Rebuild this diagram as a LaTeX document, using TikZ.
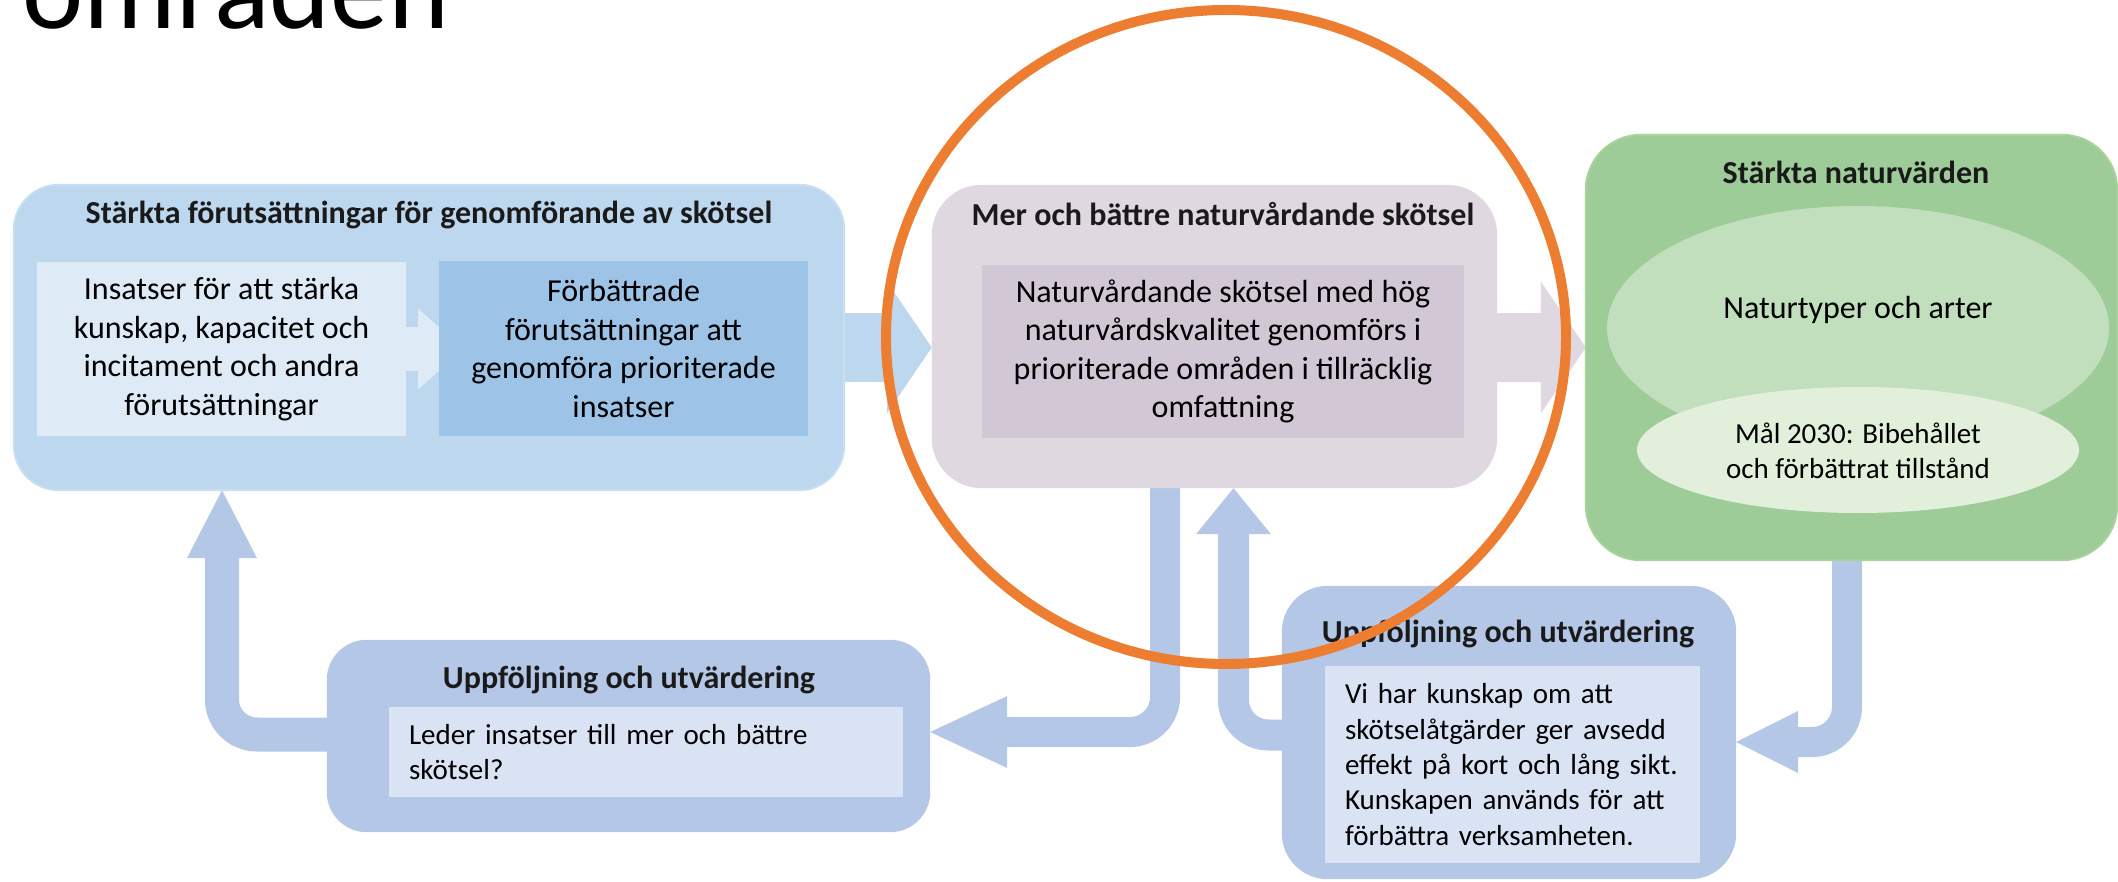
\documentclass[tikz,border=0pt]{standalone}
\usepackage{fontspec}
\setmainfont{Carlito}
\usetikzlibrary{shapes.geometric,arrows.meta,calc}
\definecolor{cBone}{HTML}{BDD7EE}
\definecolor{cBoneEdge}{HTML}{C9DEF1}
\definecolor{cA}{HTML}{DEEBF7}
\definecolor{cB}{HTML}{9DC3E6}
\definecolor{cM}{HTML}{DFD8E1}
\definecolor{cMi}{HTML}{D2C7D5}
\definecolor{cG}{HTML}{9DCC98}
\definecolor{cGedge}{HTML}{A9D29A}
\definecolor{cGa}{HTML}{C1DEBD}
\definecolor{cGb}{HTML}{E2EFDA}
\definecolor{cU}{HTML}{B4C7E7}
\definecolor{cUi}{HTML}{DAE3F3}
\definecolor{cO}{HTML}{ED7D31}
\definecolor{cTxt}{HTML}{1A1A1A}
\begin{document}
\begin{tikzpicture}[x=1pt,y=-1pt,
  panel/.style={rectangle, rounded corners=#1, inner sep=0pt},
  inbox/.style={rectangle, inner sep=0pt},
  ttl/.style={font=\fontsize{32}{38}\selectfont\bfseries, inner sep=0pt, text=cTxt},
  body/.style={font=\fontsize{32}{38.5}\selectfont, align=center},
  small/.style={font=\fontsize{29}{35.3}\selectfont},
  flow/.style={draw=cU, line width=#1, rounded corners=35pt},
  tipL/.style={-{Triangle[length=68pt,width=70pt,line width=0pt]}},
  tipM/.style={-{Triangle[length=77pt,width=72pt,line width=0pt]}},
  tipN/.style={-{Triangle[length=46pt,width=75pt,line width=0pt]}},
  tipG/.style={-{Triangle[length=62pt,width=62pt,line width=0pt]}},
  bigtip/.style={-{Triangle[length=45pt,width=132pt,line width=0pt]}}
]
\clip (0,0) rectangle (2118,882);

% page title (cut at top, as in the reference)
\node[anchor=base west, inner sep=0pt, font=\fontsize{116}{130}\selectfont] (pagetitle) at (22,29) {områden};

\coordinate (c1) at (429,337.5);
\coordinate (c2) at (1214.5,336.5);
\coordinate (cg) at (1851.5,347.5);
\coordinate (c4) at (628.5,736);
\coordinate (c5) at (1509,732.5);

% phantom nodes for anchors
\path (c1) node[panel=45pt, minimum width=830pt, minimum height=305pt] (box1) {};
\path (c2) node[panel=50pt, minimum width=565pt, minimum height=303pt] (box2) {};
\path (cg) node[panel=55pt, minimum width=531pt, minimum height=425pt] (green) {};
\path (c4) node[panel=40pt, minimum width=603pt, minimum height=192pt] (box4) {};
\path (c5) node[panel=46pt, minimum width=454pt, minimum height=293pt] (box5) {};

% big arrows between top panels
\draw[draw=cBone, line width=69pt, bigtip] (box1.east |- 0,347.5) -- (box2.west |- 0,347.5);
\draw[draw=cM, line width=69pt, bigtip] (box2.east |- 0,347.5) -- (green.west |- 0,347.5);

% feedback arrows
\draw[flow=34pt, tipL] (box4.west |- 0,734.5) -| (box1.south -| 222,0);
\draw[flow=30pt, tipM] (box2.south -| 1165,0) |- (box4.east |- 0,732);
\draw[flow=31pt, tipN] (box5.west |- 0,735) -| (box2.south -| 1233.5,0);
\draw[flow=30pt, tipG] (green.south -| 1847,0) |- (box5.east |- 0,742);

% panels
\fill[cBone] (box1.north west) [rounded corners=45pt] rectangle (box1.south east);
\draw[cBoneEdge, line width=2pt, rounded corners=45pt] (box1.north west) rectangle (box1.south east);
\fill[cM] (box2.north west) [rounded corners=50pt] rectangle (box2.south east);
\fill[cG] (green.north west) [rounded corners=55pt] rectangle (green.south east);
\draw[cGedge, line width=2pt, rounded corners=55pt] (green.north west) rectangle (green.south east);
\fill[cU] (box4.north west) [rounded corners=40pt] rectangle (box4.south east);
\fill[cU] (box5.north west) [rounded corners=46pt] rectangle (box5.south east);

% titles
\node[ttl] (t1) at (429,215) {Stärkta förutsättningar för genomförande av skötsel};
\node[ttl] (t2) at (1223,214) {Mer och bättre naturvårdande skötsel};
\node[ttl] (tg) at (1856,172) {Stärkta naturvärden};
\node[ttl] (t4) at (629,680) {Uppföljning och utvärdering};
\node[ttl] (t5) at (1508,634) {Uppföljning och utvärdering};

% inner boxes of panel 1
\node[inbox, fill=cA, minimum width=369pt, minimum height=174pt, body] (inA) at (221.5,349)
  {Insatser för att stärka\\kunskap, kapacitet och\\incitament och andra\\förutsättningar};
\draw[draw=cA, line width=44pt, -{Triangle[length=46pt,width=81pt,line width=0pt]}] (inA.east |- 0,349) -- (464,349);
\node[inbox, fill=cB, minimum width=369pt, minimum height=175pt, body] (inB) at (623.5,348.5)
  {Förbättrade\\förutsättningar att\\genomföra prioriterade\\insatser};

% inner box of panel 2
\node[inbox, fill=cMi, minimum width=482pt, minimum height=173pt, body] (inC) at (1223,351.5)
  {Naturvårdande skötsel med hög\\naturvårdskvalitet genomförs i\\prioriterade områden i tillräcklig\\omfattning};

% ellipses in green panel
\node[ellipse, fill=cGa, minimum width=502pt, minimum height=244pt, inner sep=0pt] (ell1) at (1858,328) {};
\node[inner sep=0pt, body] (ell1t) at (1858,310) {Naturtyper och arter};
\node[ellipse, fill=cGb, minimum width=442pt, minimum height=126pt, inner sep=0pt] (ell2) at (1858,450) {};
\node[inner sep=0pt, small, align=center] (ell2t) at (1858,451) {Mål 2030: Bibehållet\\och förbättrat tillstånd};

% inner boxes of follow-up panels
\node[inbox, fill=cUi, minimum height=90pt, inner xsep=20pt, text width=474pt, align=left, small] (inD) at (646,752)
  {Leder insatser till mer och bättre\\skötsel?};
\node[inbox, fill=cUi, minimum height=197pt, inner xsep=20pt, text width=335pt, align=left, small] (inE) at (1512.5,764.5)
  {Vi har kunskap om att\\skötselåtgärder ger avsedd\\effekt på kort och lång sikt.\\Kunskapen används för att\\förbättra verksamheten.};

% orange highlight ellipse
\draw[cO, line width=10pt] (1226,337) ellipse [x radius=340pt, y radius=327pt];
\end{tikzpicture}
\end{document}
